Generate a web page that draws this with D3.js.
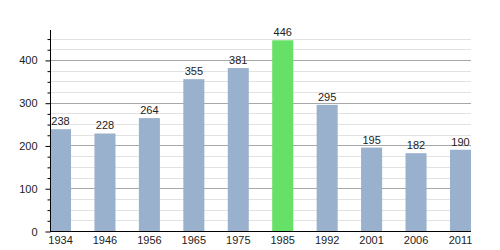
<!DOCTYPE html>
<html>
<head>
<meta charset="utf-8">
<script src="https://cdn.jsdelivr.net/npm/d3@7"></script>
<style>
body { margin:0; background:#fff; }
text { font-family: "Liberation Sans", Arial, sans-serif; fill:#222; }
</style>
</head>
<body>
<div id="plot"></div>
<script>
// data
var years = ['1934','1946','1956','1965','1975','1985','1992','2001','2006','2011'];
var population = [238,228,264,355,381,446,295,195,182,190];
var highlight = '1985';

var W = 500, H = 250;
var m = {l:50, r:471, t:30, b:231};

var svg = d3.select('#plot').append('svg')
	.attr('width', W)
	.attr('height', H);

var x = d3.scaleBand().domain(years).range([m.l, m.r]).paddingInner(0.527).paddingOuter(0);
var y = d3.scaleLinear().domain([0, 470]).range([m.b, m.t]);

// gridlines: light every 25, darker every 100
var minor = d3.range(25, 470, 25).filter(function(v){ return v % 100 != 0; });
var major = [100, 200, 300, 400];

svg.selectAll('.minor').data(minor).enter().append('line')
	.attr('x1', m.l).attr('x2', m.r)
	.attr('y1', function(d){ return Math.round(y(d)) + 0.5; })
	.attr('y2', function(d){ return Math.round(y(d)) + 0.5; })
	.style('stroke', '#e2e2e2');
svg.selectAll('.major').data(major).enter().append('line')
	.attr('x1', m.l).attr('x2', m.r)
	.attr('y1', function(d){ return Math.round(y(d)) + 0.5; })
	.attr('y2', function(d){ return Math.round(y(d)) + 0.5; })
	.style('stroke', '#a8a8a8');

// bars
svg.selectAll('.bar').data(years).enter().append('rect')
	.attr('x', function(d){ return x(d); })
	.attr('width', x.bandwidth())
	.attr('y', function(d,i){ return y(population[i]); })
	.attr('height', function(d,i){ return m.b - y(population[i]); })
	.style('fill', function(d){ return d == highlight ? '#66e066' : '#99b1cc'; });

// value labels
svg.selectAll('.val').data(years).enter().append('text')
	.attr('x', function(d){ return x(d) + x.bandwidth()/2; })
	.attr('y', function(d,i){ return y(population[i]) - 4; })
	.attr('text-anchor', 'middle')
	.style('font-size', '11px')
	.text(function(d,i){ return population[i]; });

// y axis
var yAxis = d3.axisLeft(y).tickValues(d3.range(0, 470, 25)).tickSize(3)
	.tickFormat(function(d){ return d % 100 == 0 ? d : ''; });
var gy = svg.append('g').attr('transform', 'translate(' + (m.l + 0.5) + ',0.5)').call(yAxis);
gy.select('.domain').remove();
gy.selectAll('.tick line').attr('x2', function(d){ return d % 100 == 0 ? -5 : -3; }).style('stroke', '#000');
gy.selectAll('.tick text').attr('x', -13).style('font-size', '11px').style('font-family', '"Liberation Sans", Arial, sans-serif').style('fill', '#222');
svg.append('line').attr('x1', m.l + 0.5).attr('x2', m.l + 0.5).attr('y1', m.t).attr('y2', m.b + 1).style('stroke', '#000');

// baseline and x labels
svg.append('line').attr('x1', m.l).attr('x2', m.r).attr('y1', m.b + 0.5).attr('y2', m.b + 0.5).style('stroke', '#000');
var xAxis = d3.axisBottom(x).tickSize(0).tickPadding(4);
var gx = svg.append('g').attr('transform', 'translate(0,' + (m.b + 1) + ')').call(xAxis);
gx.select('.domain').remove();
gx.selectAll('.tick text').style('font-size', '11px').style('font-family', '"Liberation Sans", Arial, sans-serif').style('fill', '#222');
</script>
</body>
</html>
